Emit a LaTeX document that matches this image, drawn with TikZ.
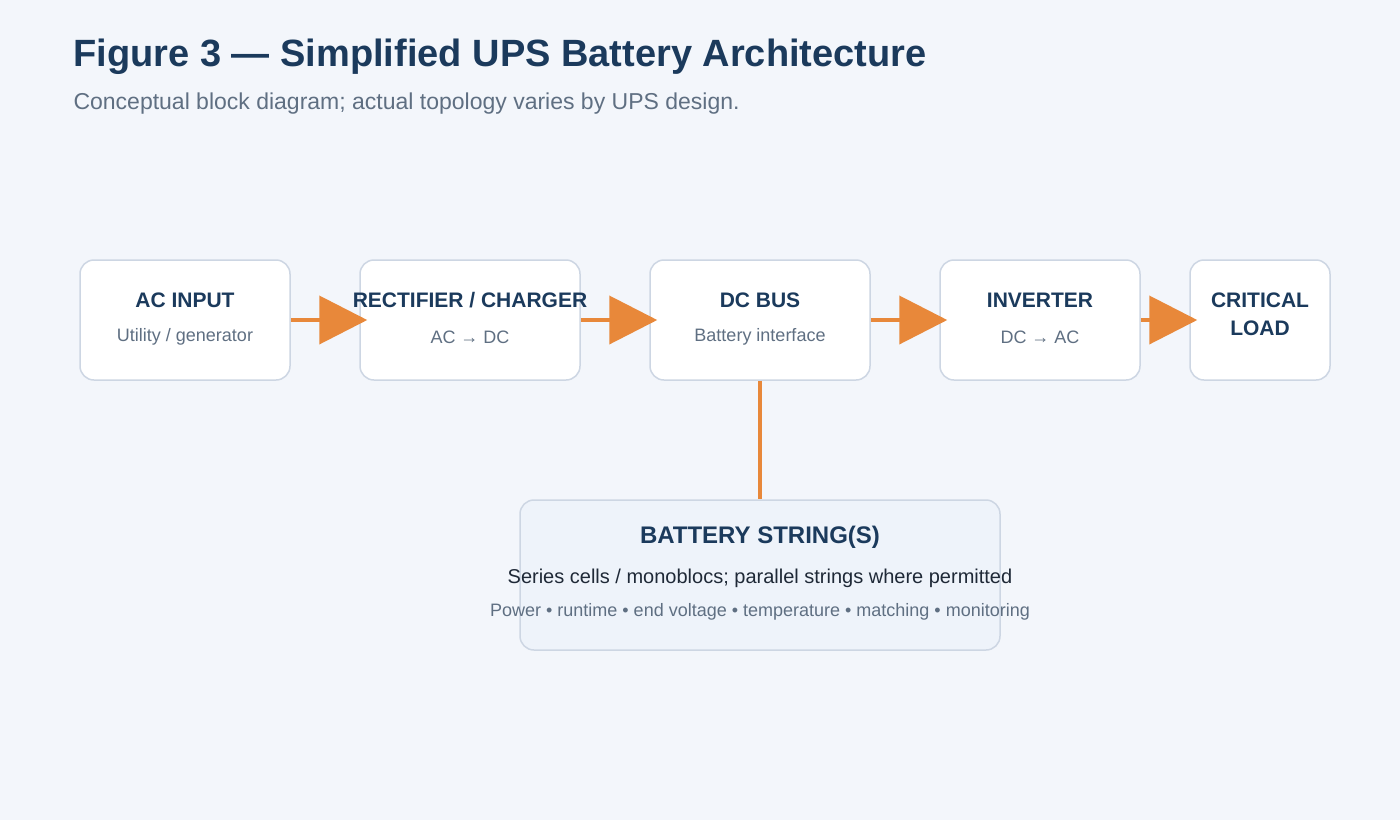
\documentclass[tikz,border=0pt]{standalone}
\usepackage{fontspec}
\setmainfont{Liberation Sans}
\usetikzlibrary{arrows.meta}
\definecolor{bg}{HTML}{F3F6FB}
\definecolor{navy}{HTML}{1B3A5C}
\definecolor{grayt}{HTML}{5F6F82}
\definecolor{edge}{HTML}{CDD6E3}
\definecolor{orng}{HTML}{E8883A}
\definecolor{batt}{HTML}{EEF3FA}
\definecolor{dark}{HTML}{1F2937}
\begin{document}
\begin{tikzpicture}[x=1pt,y=-1pt,
 box/.style={draw=edge,line width=1.5pt,fill=white,rounded corners=14pt,inner sep=0pt},
 ttl/.style={font=\fontsize{21}{25}\selectfont\bfseries,text=navy,align=center},
 sub/.style={font=\fontsize{18}{22}\selectfont,text=grayt},
 flow/.style={draw=orng,line width=4pt,-{Triangle[length=48pt,width=48pt]}}]
\fill[bg] (0,0) rectangle (1400,820);
\useasboundingbox (0,0) rectangle (1400,820);
\node[anchor=west,font=\fontsize{38}{44}\selectfont\bfseries,text=navy] (title) at (70,57) {Figure 3 — Simplified UPS Battery Architecture};
\node[anchor=west,font=\fontsize{23}{28}\selectfont,text=grayt] (subt) at (70,104) {Conceptual block diagram; actual topology varies by UPS design.};
\node[box,minimum width=210pt,minimum height=120pt] (ac) at (185,320) {};
\node[box,minimum width=220pt,minimum height=120pt] (rc) at (470,320) {};
\node[box,minimum width=220pt,minimum height=120pt] (dc) at (760,320) {};
\node[box,minimum width=200pt,minimum height=120pt] (inv) at (1040,320) {};
\node[box,minimum width=140pt,minimum height=120pt] (cl) at (1260,320) {};
\node[box,fill=batt,minimum width=480pt,minimum height=150pt] (bat) at (760,575) {};
\node[ttl] (act) at (185,300) {AC INPUT};
\node[sub] (acs) at (185,337) {Utility / generator};
\node[ttl] (rct) at (470,300) {RECTIFIER / CHARGER};
\node[sub] (rcs) at (470,337) {AC → DC};
\node[ttl] (dct) at (760,300) {DC BUS};
\node[sub] (dcs) at (760,337) {Battery interface};
\node[ttl] (invt) at (1040,300) {INVERTER};
\node[sub] (invs) at (1040,337) {DC → AC};
\node[ttl,font=\fontsize{21}{28}\selectfont\bfseries] (clt) at (1260,314) {CRITICAL\\LOAD};
\node[ttl,font=\fontsize{24}{28}\selectfont\bfseries] (bt) at (760,537) {BATTERY STRING(S)};
\node[font=\fontsize{20}{24}\selectfont,text=dark] (b1) at (760,578) {Series cells / monoblocs; parallel strings where permitted};
\node[sub] (b2) at (760,612) {Power • runtime • end voltage • temperature • matching • monitoring};
\draw[flow] (ac.east) -- ([xshift=8pt]rc.west);
\draw[flow] (rc.east) -- ([xshift=8pt]dc.west);
\draw[flow] (dc.east) -- ([xshift=8pt]inv.west);
\draw[flow] (inv.east) -- ([xshift=8pt]cl.west);
\draw[orng,line width=4pt] (dc.south) -- (bat.north);
\end{tikzpicture}
\end{document}
